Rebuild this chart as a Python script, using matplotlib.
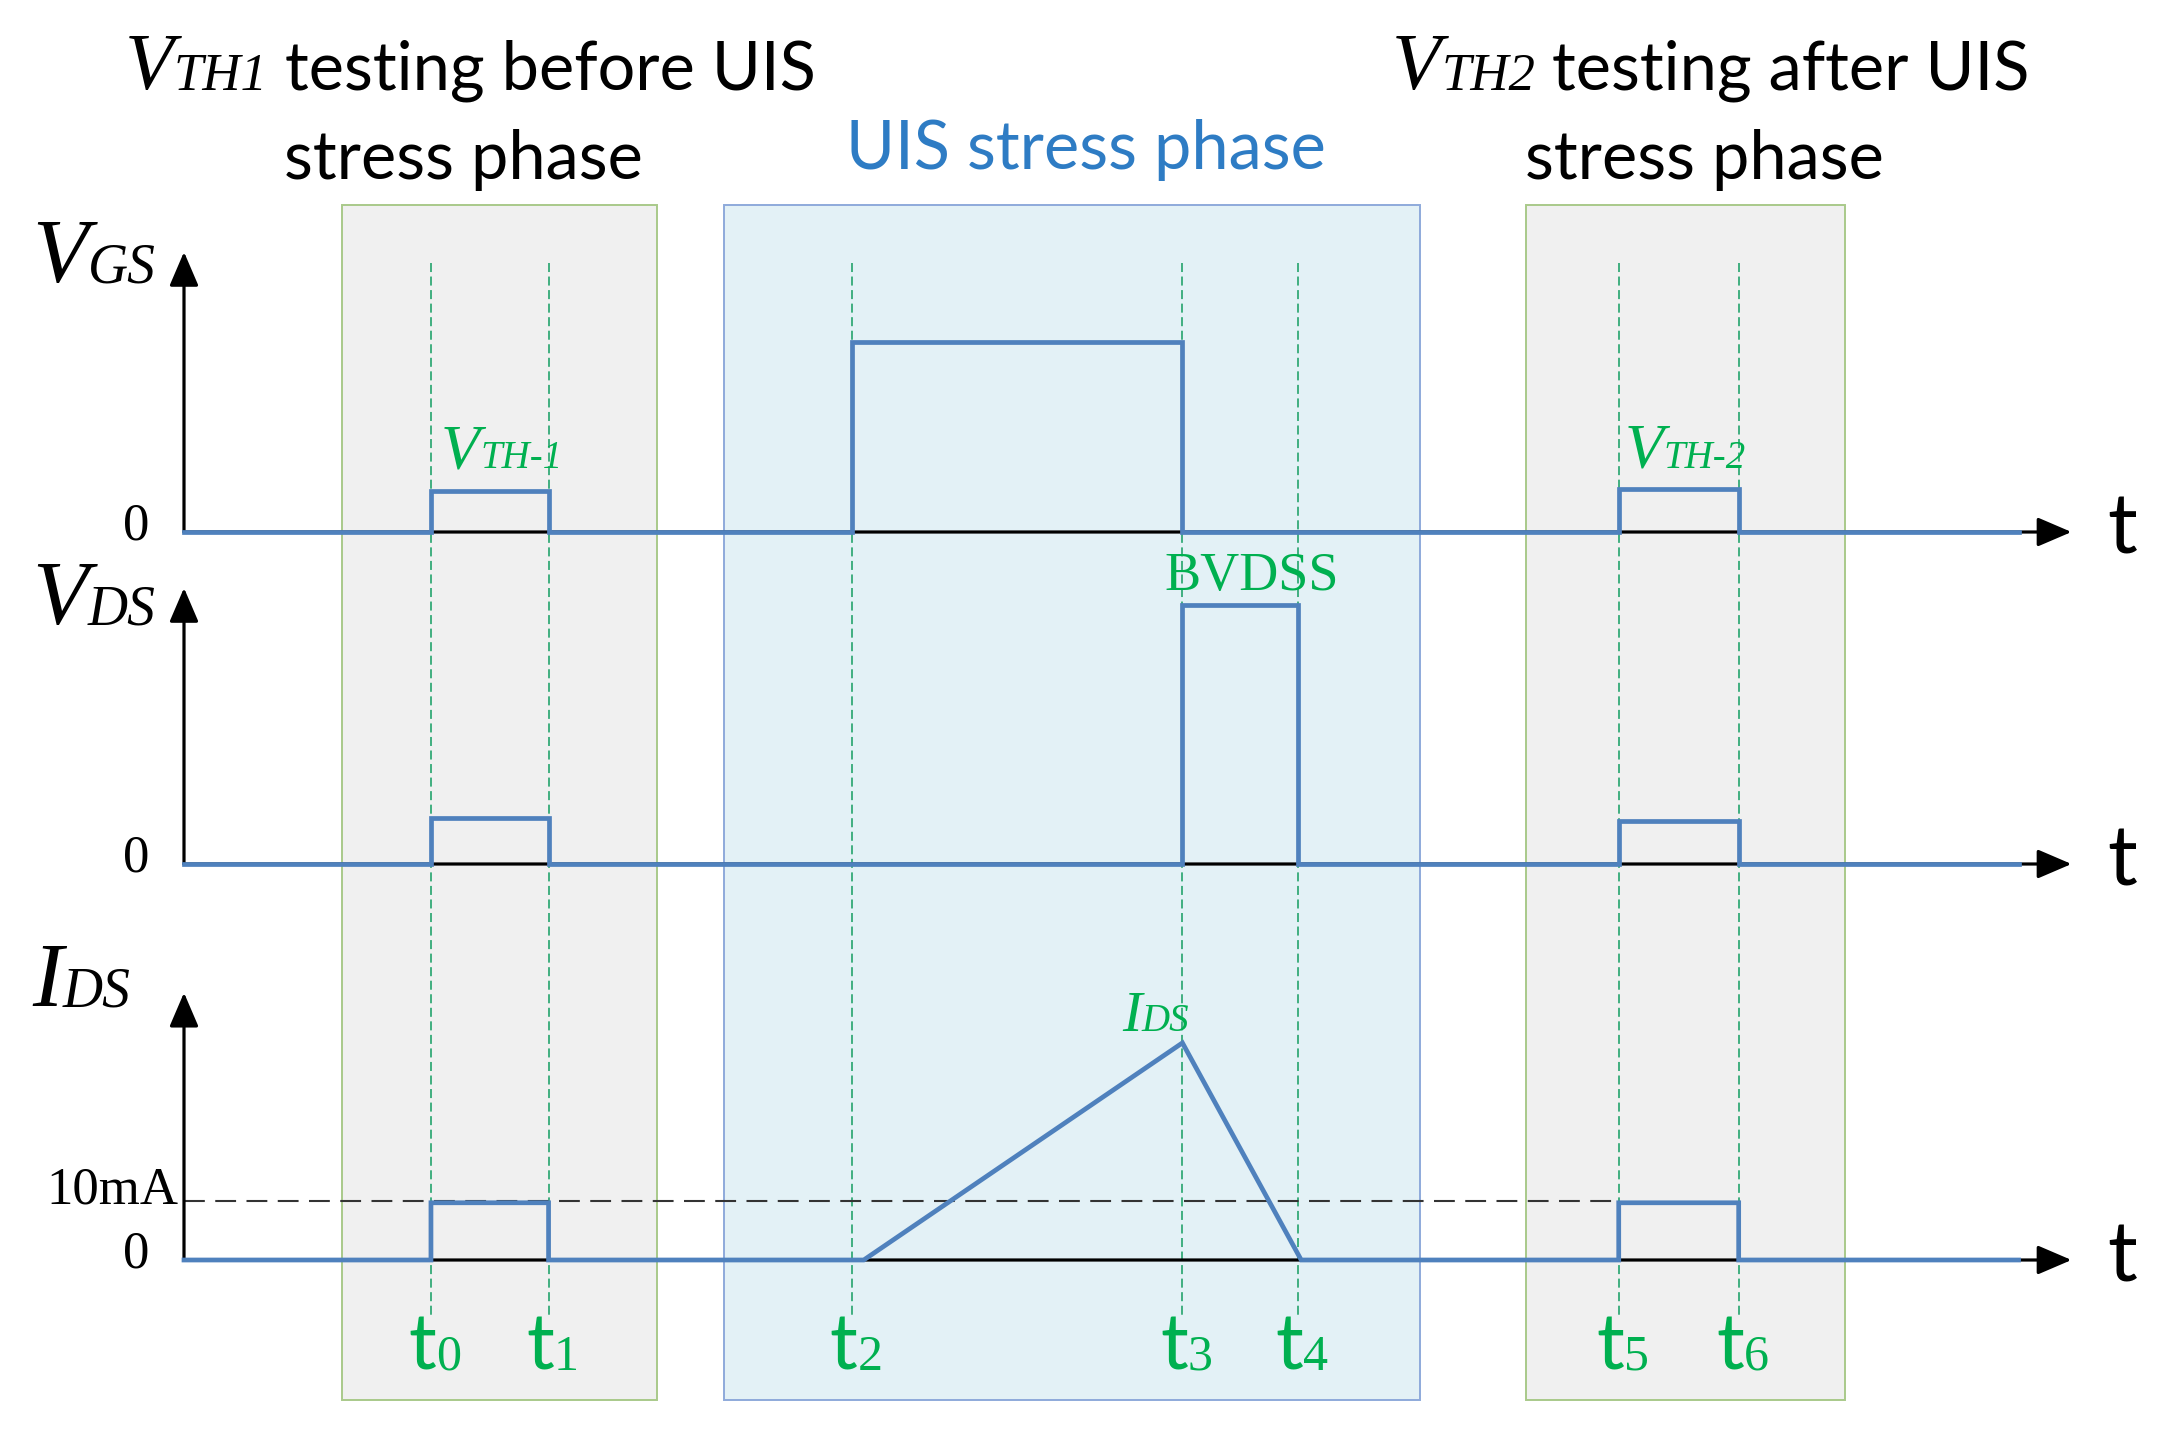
import matplotlib
matplotlib.use("Agg")
import matplotlib.pyplot as plt
from matplotlib.patches import Rectangle
from matplotlib.offsetbox import TextArea, HPacker, AnnotationBbox

W, H = 2169, 1429

# time marks t0..t6 (arbitrary time units)
t_marks = [2.1, 3.1, 5.68, 8.49, 9.47, 12.2, 13.22]
t_names = ["0", "1", "2", "3", "4", "5", "6"]
ids_ramp_start = 5.78
ids_fall_end = 9.5
trace_end = 15.6
axis_end = 16.05

# phase windows (start, end) in time units
phase_windows = [(1.34, 4.02), (4.59, 10.51), (11.41, 14.12)]

# pulse amplitudes (a.u.)
vgs_vth1, vgs_stress, vgs_vth2 = 1.0, 4.63, 1.05
vds_vth1, vds_bvdss, vds_vth2 = 1.0, 5.63, 0.93
ids_10ma, ids_pulse, ids_peak = 1.0, 0.97, 3.68

t0, t1, t2, t3, t4, t5, t6 = t_marks

vgs_t = [0, t0, t0, t1, t1, t2, t2, t3, t3, t5, t5, t6, t6, trace_end]
vgs_v = [0, 0, vgs_vth1, vgs_vth1, 0, 0, vgs_stress, vgs_stress, 0, 0, vgs_vth2, vgs_vth2, 0, 0]

vds_t = [0, t0, t0, t1, t1, t3, t3, t4, t4, t5, t5, t6, t6, trace_end]
vds_v = [0, 0, vds_vth1, vds_vth1, 0, 0, vds_bvdss, vds_bvdss, 0, 0, vds_vth2, vds_vth2, 0, 0]

ids_t = [0, t0, t0, t1, t1, ids_ramp_start, t3, ids_fall_end, t5, t5, t6, t6, trace_end]
ids_v = [0, 0, ids_pulse, ids_pulse, 0, 0, ids_peak, 0, 0, ids_pulse, ids_pulse, 0, 0]

# layout: pixel position of t=0 and pixels per time unit
X0_PX, PX_PER_T = 184, 117.6
XLIM = (-X0_PX / PX_PER_T, (W - X0_PX) / PX_PER_T)

BLUE = "#4f81bd"
GREEN = "#00b050"
DASH_GREEN = "#33aa77"
SERIF = "Liberation Serif"
SANS = "Lato"

fig = plt.figure(figsize=(W / 100, H / 100), dpi=100)

# background axes: x in time units, y in pixels from top
ax_bg = fig.add_axes([0, 0, 1, 1])
ax_bg.set_xlim(*XLIM)
ax_bg.set_ylim(H, 0)
ax_bg.axis("off")

box_styles = [("#f0f0f0", "#a9c98a"), ("#e3f1f6", "#8eaadb"), ("#f0f0f0", "#a9c98a")]
for (a, b), (fc, ec) in zip(phase_windows, box_styles):
    ax_bg.add_patch(Rectangle((a, 205), b - a, 1195, facecolor=fc, edgecolor=ec, lw=1.4))

for t in t_marks:
    ax_bg.plot([t, t], [263, 1318], color=DASH_GREEN, lw=1.3, ls=(0, (5, 2.5)))


def rich(parts, x, y, align=(0.5, 0.5), target=None, offset=None):
    kids = [TextArea(s, textprops=p) for s, p in parts]
    pack = HPacker(children=kids, align="baseline", pad=0, sep=0)
    if target is None:
        ab = AnnotationBbox(pack, (x, H - y), xycoords="figure pixels",
                            box_alignment=align, frameon=False, pad=0,
                            annotation_clip=False)
        fig.add_artist(ab)
    else:
        ab = AnnotationBbox(pack, (x, y), xycoords="data", xybox=offset,
                            boxcoords="offset pixels", box_alignment=align,
                            frameon=False, pad=0, annotation_clip=False)
        target.add_artist(ab)


def it(size, color="black"):
    return dict(family=SERIF, style="italic", size=size, color=color)


def sans(size, color="black"):
    return dict(family=SANS, size=size, color=color)


# phase titles
rich([("V", it(58)), ("TH1", it(38)), (" testing before UIS", sans(48))], 470, 70)
rich([("stress phase", sans(48))], 463, 160)
rich([("UIS stress phase", sans(48, "#2e7cc4"))], 1086, 150)
rich([("V", it(58)), ("TH2", it(38)), (" testing after UIS", sans(48))], 1711, 70)
rich([("stress phase", sans(48))], 1704, 160)

# panels: (name, sub, baseline px, px per unit, arrow top, t, v)
panels = [
    ("V", "GS", 532, 41, 6.83, vgs_t, vgs_v),
    ("V", "DS", 864, 46, 6.0, vds_t, vds_v),
    ("I", "DS", 1260, 59, 4.53, ids_t, ids_v),
]
label_lift = [272, 262, 276]
axes = []
for (name, sub, base, ppu, top, tt, vv), lift in zip(panels, label_lift):
    ax = fig.add_axes([0, 0, 1, 1])
    ax.set_xlim(*XLIM)
    ax.set_ylim((base - H) / ppu, base / ppu)
    ax.axis("off")
    ax.patch.set_alpha(0)
    arrow = dict(arrowstyle="-|>,head_length=0.7,head_width=0.3", color="black",
                 lw=2.3, shrinkA=0, shrinkB=0, mutation_scale=30)
    ax.annotate("", xy=(axis_end, 0), xytext=(0, 0), arrowprops=arrow)
    ax.annotate("", xy=(0, top), xytext=(0, 0), arrowprops=arrow)
    ax.plot(tt, vv, color=BLUE, lw=3.4, solid_joinstyle="miter", zorder=5)
    axes.append(ax)
    rich([(name, it(66)), (sub, it(40))], 32, base - lift, align=(0, 0.5))
    rich([("0", dict(family=SERIF, size=38))], 136, base - 6)
    rich([("t", sans(60))], 2122, base - 2)

ax_vgs, ax_vds, ax_ids = axes

# 10 mA reference
ax_ids.plot([0, t5], [ids_10ma, ids_10ma], color="#333333", lw=1.5, ls=(0, (10, 5)))
rich([("10mA", dict(family=SERIF, size=38))], 178, 1191, align=(1, 0.5))

# data labels
rich([("V", it(46, GREEN)), ("TH-1", it(28, GREEN))], t0, vgs_vth1, align=(0, 0.5),
     target=ax_vgs, offset=(10, 38))
rich([("V", it(46, GREEN)), ("TH-2", it(28, GREEN))], t5, vgs_vth2, align=(0, 0.5),
     target=ax_vgs, offset=(6, 36))
rich([("BVDSS", dict(family=SERIF, size=39, color=GREEN))], (t3 + t4) / 2, vds_bvdss,
     align=(0.5, 0.5), target=ax_vds, offset=(12, 28))
rich([("I", it(42, GREEN)), ("DS", it(28, GREEN))], t3, ids_peak, align=(1, 0.5),
     target=ax_ids, offset=(7, 26))

for t, n in zip(t_marks, t_names):
    rich([("t", sans(56, GREEN)), (n, dict(family=SERIF, size=36, color=GREEN))], t, 0,
         align=(0.5, 0.5), target=ax_ids, offset=(4, -88))

fig.savefig("out.png", dpi=100, facecolor="white")
